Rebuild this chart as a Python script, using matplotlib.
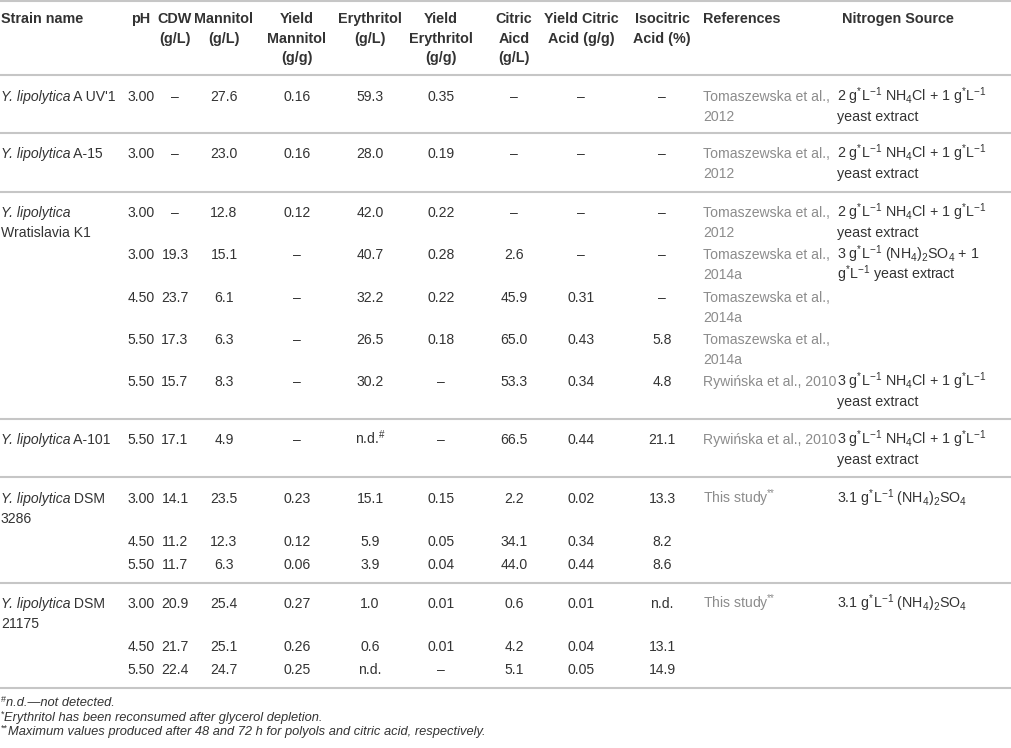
import matplotlib
matplotlib.use("Agg")
import matplotlib.pyplot as plt

plt.rcParams['font.family'] = ['Liberation Sans', 'DejaVu Sans']
plt.rcParams['mathtext.fontset'] = 'custom'
plt.rcParams['mathtext.rm'] = 'Liberation Sans'
plt.rcParams['mathtext.it'] = 'Liberation Sans:italic'
plt.rcParams['mathtext.bf'] = 'Liberation Sans:bold'

# ---------------- data ----------------
headers = ["Strain name", "pH", "CDW\n(g/L)", "Mannitol\n(g/L)", "Yield\nMannitol\n(g/g)",
           "Erythritol\n(g/L)", "Yield\nErythritol\n(g/g)", "Citric\nAicd\n(g/L)",
           "Yield Citric\nAcid (g/g)", "Isocitric\nAcid (%)", "References", "Nitrogen Source"]

strain_italic = ["Y. lipolytica", "Y. lipolytica", "Y. lipolytica", "", "", "", "",
                 "Y. lipolytica", "Y. lipolytica", "", "", "Y. lipolytica", "", ""]
strain_rest = ["A UV'1", "A-15", "\nWratislavia K1", "", "", "", "",
               "A-101", "DSM\n3286", "", "", "DSM\n21175", "", ""]

ph = ["3.00", "3.00", "3.00", "3.00", "4.50", "5.50", "5.50", "5.50",
      "3.00", "4.50", "5.50", "3.00", "4.50", "5.50"]
cdw = ["–", "–", "–", "19.3", "23.7", "17.3", "15.7", "17.1",
       "14.1", "11.2", "11.7", "20.9", "21.7", "22.4"]
mannitol = ["27.6", "23.0", "12.8", "15.1", "6.1", "6.3", "8.3", "4.9",
            "23.5", "12.3", "6.3", "25.4", "25.1", "24.7"]
yield_mannitol = ["0.16", "0.16", "0.12", "–", "–", "–", "–", "–",
                  "0.23", "0.12", "0.06", "0.27", "0.26", "0.25"]
erythritol = ["59.3", "28.0", "42.0", "40.7", "32.2", "26.5", "30.2", r"n.d.$^{\#}$",
              "15.1", "5.9", "3.9", "1.0", "0.6", "n.d."]
yield_erythritol = ["0.35", "0.19", "0.22", "0.28", "0.22", "0.18", "–", "–",
                    "0.15", "0.05", "0.04", "0.01", "0.01", "–"]
citric = ["–", "–", "–", "2.6", "45.9", "65.0", "53.3", "66.5",
          "2.2", "34.1", "44.0", "0.6", "4.2", "5.1"]
yield_citric = ["–", "–", "–", "–", "0.31", "0.43", "0.34", "0.44",
                "0.02", "0.34", "0.44", "0.01", "0.04", "0.05"]
isocitric = ["–", "–", "–", "–", "–", "5.8", "4.8", "21.1",
             "13.3", "8.2", "8.6", "n.d.", "13.1", "14.9"]

T12 = "Tomaszewska et al.,\n2012"
T14 = "Tomaszewska et al.,\n2014a"
R10 = "Rywińska et al., 2010"
TS = r"This study$^{{*}\!{*}}$"
references = [T12, T12, T12, T14, T14, T14, R10, R10, TS, "", "", TS, "", ""]

N2 = r"2 g$^{*}$L$^{-1}$ NH$_4$Cl + 1 g$^{*}$L$^{-1}$" + "\nyeast extract"
N3S = r"3 g$^{*}$L$^{-1}$ (NH$_4$)$_2$SO$_4$ + 1" + "\n" + r"g$^{*}$L$^{-1}$ yeast extract"
N3 = r"3 g$^{*}$L$^{-1}$ NH$_4$Cl + 1 g$^{*}$L$^{-1}$" + "\nyeast extract"
N31 = r"3.1 g$^{*}$L$^{-1}$ (NH$_4$)$_2$SO$_4$"
nitrogen = [N2, N2, N2, N3S, "", "", N3, N3, N31, "", "", N31, "", ""]

foot_marks = ["#", "*", "**"]
foot_texts = ["n.d.—not detected.",
              "Erythritol has been reconsumed after glycerol depletion.",
              "Maximum values produced after 48 and 72 h for polyols and citric acid, respectively."]

# ---------------- layout ----------------
W, H = 1012, 748
FS = 10.1
HFS = 10.4
TXT = "#333333"
REF = "#8c8c8c"
LINE = "#c6c6c6"
LH = 19.5          # line height within a cell
BASE = 5.2         # baseline offset from visual centre

row_y = [96, 153, 212, 254, 297, 339, 381, 439, 498, 541, 564, 603, 646, 669]
rule_y = [1, 75, 133, 192, 419, 477, 583, 688]
head_y = 18
num_x = [141, 175, 224, 297, 370, 441, 514, 581, 662]
ref_x, nit_x, nit_hx = 703, 837, 842
foot_y = [702, 717, 731]

fig = plt.figure(figsize=(W / 100, H / 100), dpi=100)
ax = fig.add_axes([0, 0, 1, 1])
ax.set_xlim(0, W)
ax.set_ylim(H, 0)
ax.axis("off")
renderer = fig.canvas.get_renderer()

for y in rule_y:
    ax.plot([0, W], [y, y], color=LINE, lw=1.5, solid_capstyle="butt")


def put(x, y, s, ha="center", color=TXT, weight="normal", style="normal", size=FS):
    for k, line in enumerate(s.split("\n")):
        if line:
            ax.text(x, y + k * LH + BASE, line, ha=ha, va="baseline", color=color,
                    fontsize=size, fontweight=weight, fontstyle=style)


def run(x, y, segments):
    """Draw text segments one after another on a baseline (pixel coords)."""
    for s, style, size, dy in segments:
        t = ax.text(x, y + dy, s, ha="left", va="baseline", color=TXT,
                    fontsize=size, fontstyle=style)
        bb = t.get_window_extent(renderer)
        x += bb.width


# headers
put(1, head_y, headers[0], ha="left", weight="bold", size=HFS)
for x, h in zip(num_x, headers[1:10]):
    put(x, head_y, h, weight="bold", size=HFS)
put(ref_x, head_y, headers[10], ha="left", weight="bold", size=HFS)
put(nit_hx, head_y, headers[11], ha="left", weight="bold", size=HFS)

# body
cols = [ph, cdw, mannitol, yield_mannitol, erythritol, yield_erythritol,
        citric, yield_citric, isocitric]
for i, y in enumerate(row_y):
    if strain_italic[i]:
        rest = strain_rest[i].split("\n")
        segs = [(strain_italic[i], "italic", FS, 0)]
        if rest[0]:
            segs.append((" " + rest[0], "normal", FS, 0))
        run(1, y + BASE, segs)
        for k, extra in enumerate(rest[1:]):
            ax.text(1, y + (k + 1) * LH + BASE, extra, ha="left", va="baseline",
                    color=TXT, fontsize=FS)
    for x, col in zip(num_x, cols):
        put(x, y, col[i])
    put(ref_x, y, references[i], ha="left", color=REF)
    put(nit_x, y, nitrogen[i], ha="left", size=10.3)

for y, m, s in zip(foot_y, foot_marks, foot_texts):
    run(1, y + 4.5, [(m, "normal", 6.5, -4.5), (s, "italic", 9.3, 0)])

fig.savefig("out.png", dpi=100)
